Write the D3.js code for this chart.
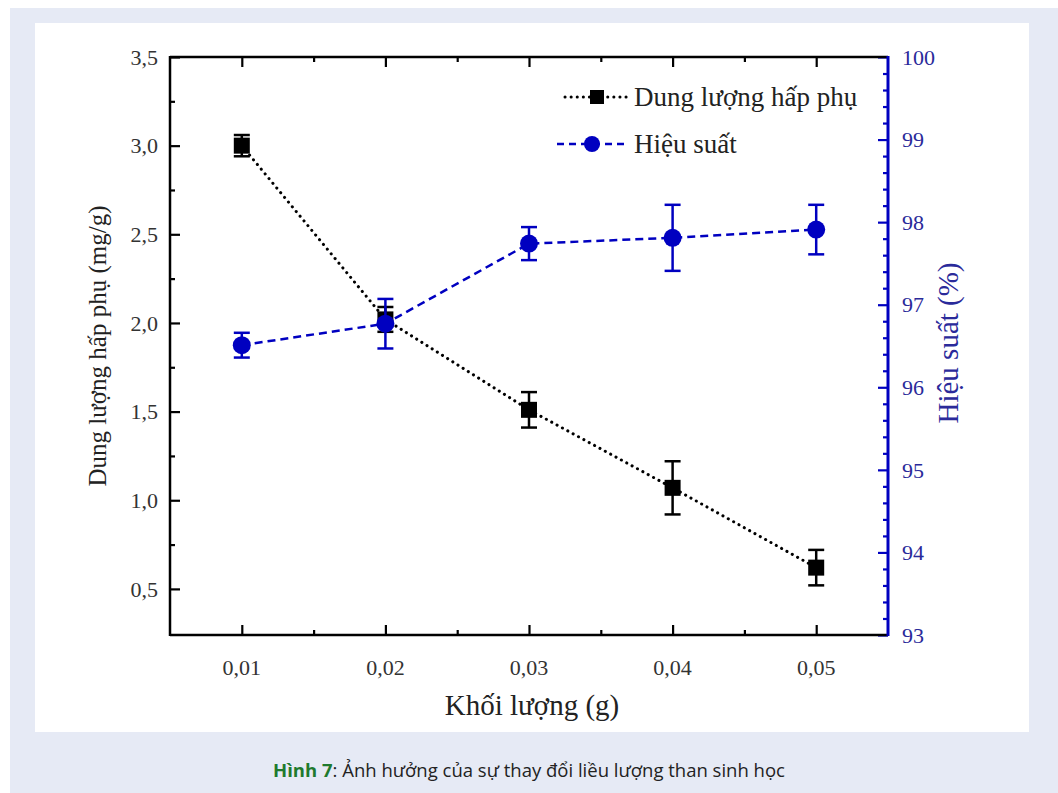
<!DOCTYPE html>
<html lang="vi">
<head>
<meta charset="UTF-8">
<title>Hình 7</title>
<script src="https://d3js.org/d3.v7.min.js"></script>
<style>
  body { margin: 0; background: #fff; }
  svg { display: block; }
</style>
</head>
<body>
<div id="chart"></div>
<script>
// data
const masses = [0.01, 0.02, 0.03, 0.04, 0.05];
const capacity = [3.00, 2.02, 1.51, 1.07, 0.62];
const capacityErr = [0.06, 0.07, 0.10, 0.15, 0.10];
const efficiency = [96.51, 96.77, 97.74, 97.81, 97.91];
const efficiencyErr = [0.15, 0.30, 0.20, 0.40, 0.30];
const xTicks = [0.01, 0.02, 0.03, 0.04, 0.05];
const leftTicks = [0.5, 1.0, 1.5, 2.0, 2.5, 3.0, 3.5];
const rightTicks = [93, 94, 95, 96, 97, 98, 99, 100];

const W = 1058, H = 793;
const blue = "#0000c0";
const serif = "'Liberation Serif', 'Times New Roman', serif";
const comma = (v, n) => v.toFixed(n).replace(".", ",");

const svg = d3.select("#chart").append("svg")
  .attr("width", W).attr("height", H);

// page backgrounds
svg.append("rect").attr("x", 10).attr("y", 8).attr("width", W - 10).attr("height", H - 8).attr("fill", "#e6eaf5");
svg.append("rect").attr("x", 35).attr("y", 23).attr("width", 994).attr("height", 709).attr("fill", "#fff");

const plot = {left: 170, right: 888, top: 57, bottom: 635};

const x = d3.scaleLinear().domain([0.005, 0.055]).range([plot.left, plot.right]);
const yL = d3.scaleLinear().domain([0.24, 3.5]).range([plot.bottom, plot.top]);
const yR = d3.scaleLinear().domain([93, 100]).range([plot.bottom, plot.top]);

const g = svg.append("g");

// axes with inward ticks
function ticks(axis, pos, values, size, color) {
  g.append("g").attr("transform", pos)
    .call(axis.tickValues(values).tickSize(size).tickFormat(""))
    .call(a => a.select(".domain").remove())
    .call(a => a.selectAll(".tick line").attr("stroke", color).attr("stroke-width", 2.2));
}
const xMinor = d3.range(0.015, 0.055, 0.01);
ticks(d3.axisTop(x), `translate(0,${plot.bottom})`, xMinor, 5, "#000");
ticks(d3.axisTop(x), `translate(0,${plot.bottom})`, xTicks, 10, "#000");
ticks(d3.axisBottom(x), `translate(0,${plot.top})`, xMinor, 5, "#000");
ticks(d3.axisBottom(x), `translate(0,${plot.top})`, xTicks, 10, "#000");
ticks(d3.axisRight(yL), `translate(${plot.left},0)`, d3.range(0.75, 3.5, 0.5), 5, "#000");
ticks(d3.axisRight(yL), `translate(${plot.left},0)`, leftTicks, 10, "#000");
ticks(d3.axisLeft(yR), `translate(${plot.right},0)`,
  d3.range(93.2, 100, 0.2).filter(v => Math.abs(v - Math.round(v)) > 0.01), 5, blue);
ticks(d3.axisLeft(yR), `translate(${plot.right},0)`, rightTicks, 10, blue);

// frame
g.append("line").attr("x1", plot.left).attr("x2", plot.right).attr("y1", plot.top).attr("y2", plot.top).attr("stroke", "#000").attr("stroke-width", 2.5);
g.append("line").attr("x1", plot.left).attr("x2", plot.right).attr("y1", plot.bottom).attr("y2", plot.bottom).attr("stroke", "#000").attr("stroke-width", 2.5);
g.append("line").attr("x1", plot.left).attr("x2", plot.left).attr("y1", plot.top - 1).attr("y2", plot.bottom + 1).attr("stroke", "#000").attr("stroke-width", 2.5);
g.append("line").attr("x1", plot.right).attr("x2", plot.right).attr("y1", plot.top - 1).attr("y2", plot.bottom + 1).attr("stroke", blue).attr("stroke-width", 3);

// tick labels
svg.selectAll(".xl").data(xTicks).join("text")
  .style("font-family", serif).style("font-size", "22px")
  .attr("x", d => x(d)).attr("y", plot.bottom + 40).attr("text-anchor", "middle").attr("fill", "#333")
  .text(d => comma(d, 2));
svg.selectAll(".yl").data(leftTicks).join("text")
  .style("font-family", serif).style("font-size", "22px")
  .attr("x", plot.left - 12).attr("y", d => yL(d)).attr("dy", "0.35em").attr("text-anchor", "end").attr("fill", "#333")
  .text(d => comma(d, 1));
svg.selectAll(".yr").data(rightTicks).join("text")
  .style("font-family", serif).style("font-size", "22px")
  .attr("x", plot.right + 14).attr("y", d => yR(d)).attr("dy", "0.35em").attr("fill", "#2a2a9a")
  .text(d => d);

// axis titles
svg.append("text").style("font-family", serif).style("font-size", "29px").attr("fill", "#222")
  .attr("x", 532).attr("y", 715).attr("text-anchor", "middle").text("Khối lượng (g)");
svg.append("text").style("font-family", serif).style("font-size", "25px").attr("fill", "#222")
  .attr("transform", "translate(106,346) rotate(-90)").attr("text-anchor", "middle").text("Dung lượng hấp phụ (mg/g)");
svg.append("text").style("font-family", serif).style("font-size", "29px").attr("fill", "#2a2a9a")
  .attr("transform", "translate(958,343) rotate(-90)").attr("text-anchor", "middle").text("Hiệu suất (%)");

// series
const capPts = masses.map((m, i) => ({x: m, y: capacity[i], e: capacityErr[i]}));
const effPts = masses.map((m, i) => ({x: m, y: efficiency[i], e: efficiencyErr[i]}));

const lineL = d3.line().x(d => x(d.x)).y(d => yL(d.y));
const lineR = d3.line().x(d => x(d.x)).y(d => yR(d.y));

function errorBars(pts, yScale, color) {
  const eb = svg.append("g").attr("stroke", color).attr("stroke-width", 2.5);
  pts.forEach(d => {
    const cx = x(d.x), y1 = yScale(d.y + d.e), y2 = yScale(d.y - d.e);
    eb.append("line").attr("x1", cx).attr("x2", cx).attr("y1", y1).attr("y2", y2);
    eb.append("line").attr("x1", cx - 8).attr("x2", cx + 8).attr("y1", y1).attr("y2", y1);
    eb.append("line").attr("x1", cx - 8).attr("x2", cx + 8).attr("y1", y2).attr("y2", y2);
  });
}

svg.append("path").datum(capPts).attr("d", lineL).attr("fill", "none")
  .attr("stroke", "#000").attr("stroke-width", 3).attr("stroke-dasharray", "0.1,6").attr("stroke-linecap", "round");
errorBars(capPts, yL, "#000");
svg.selectAll(".sq").data(capPts).join("rect")
  .attr("x", d => x(d.x) - 8).attr("y", d => yL(d.y) - 8).attr("width", 16).attr("height", 16).attr("fill", "#000");

svg.append("path").datum(effPts).attr("d", lineR).attr("fill", "none")
  .attr("stroke", blue).attr("stroke-width", 2.5).attr("stroke-dasharray", "8,5");
errorBars(effPts, yR, blue);
svg.selectAll(".ci").data(effPts).join("circle")
  .attr("cx", d => x(d.x)).attr("cy", d => yR(d.y)).attr("r", 9).attr("fill", blue);

// legend
const leg = svg.append("g");
leg.append("line").attr("x1", 565).attr("x2", 630).attr("y1", 97).attr("y2", 97)
  .attr("stroke", "#000").attr("stroke-width", 3).attr("stroke-dasharray", "0.1,6").attr("stroke-linecap", "round");
leg.append("rect").attr("x", 590).attr("y", 90).attr("width", 14).attr("height", 14).attr("fill", "#000");
leg.append("text").style("font-family", serif).style("font-size", "27px")
  .attr("x", 634).attr("y", 97).attr("dy", "0.33em").attr("fill", "#222").text("Dung lượng hấp phụ");
leg.append("line").attr("x1", 557).attr("x2", 627).attr("y1", 144).attr("y2", 144)
  .attr("stroke", blue).attr("stroke-width", 2.5).attr("stroke-dasharray", "7,5");
leg.append("circle").attr("cx", 592).attr("cy", 144).attr("r", 8).attr("fill", blue);
leg.append("text").style("font-family", serif).style("font-size", "27px")
  .attr("x", 634).attr("y", 144).attr("dy", "0.33em").attr("fill", "#222").text("Hiệu suất");

// caption
const cap = svg.append("text").attr("x", 529).attr("y", 777).attr("text-anchor", "middle")
  .style("font-family", "'Open Sans', sans-serif").style("font-size", "18.5px").attr("fill", "#222");
cap.append("tspan").attr("fill", "#1f7a2e").attr("font-weight", "bold").text("Hình 7");
cap.append("tspan").text(": Ảnh hưởng của sự thay đổi liều lượng than sinh học");
</script>
</body>
</html>
